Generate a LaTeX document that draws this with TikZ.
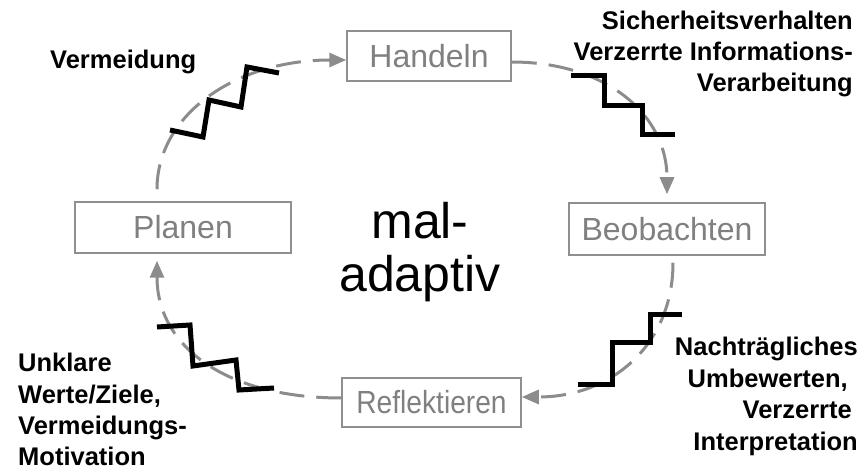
\documentclass[tikz,border=0pt]{standalone}
\usepackage{fontspec}
\setmainfont{Liberation Sans}
\usetikzlibrary{arrows.meta,calc}
\definecolor{cyc}{HTML}{8C8C8C}
\definecolor{boxline}{HTML}{8F8F8F}
\definecolor{boxtext}{HTML}{808080}
\begin{document}
\begin{tikzpicture}[x=1pt,y=-1pt,
  box/.style={draw=boxline,line width=1.5pt,fill=white,text=boxtext,
    font=\fontsize{32}{38}\selectfont,inner sep=0pt},
  cyclearrow/.style={draw=cyc,line width=3pt,dash pattern=on 25pt off 12pt,
    -{Triangle[length=17pt,width=14pt]}},
  stair/.style={draw=black,line width=5pt,miter limit=10},
  lab/.style={font=\bfseries\fontsize{25.5}{31.4}\selectfont,inner sep=0pt,text=black},
  big/.style={font=\fontsize{50}{52}\selectfont,inner sep=0pt,text=black}]
\useasboundingbox (0,0) rectangle (863,470);

% boxes
\node[box,minimum width=164pt,minimum height=50pt] (handeln) at (429,56) {Handeln};
\node[box,minimum width=196pt,minimum height=52pt] (beob) at (667,229) {Beobachten};
\node[box,minimum width=216pt,minimum height=51pt] (planen) at (183,227.5) {Planen};
\node[box,minimum width=179pt,minimum height=49pt] (refl) at (431.5,402.5) {\scalebox{0.88}[1]{Reflektieren}};

% cycle connectors
\draw[cyclearrow] ($(planen.north)+(-26,-12)$) .. controls +(0,-75) and +(-110,0) .. ($(handeln.west)+(0,4)$);
\draw[cyclearrow] ($(handeln.east)+(0,6)$) .. controls +(94,0) and +(0,-80) .. ($(beob.north)+(0,-8)$);
\draw[cyclearrow] ($(beob.south)+(6,7)$) .. controls +(0,81) and +(91,0) .. ($(refl.east)+(0,-5.5)$);
\draw[cyclearrow] ($(refl.west)+(0,-4.5)$) .. controls +(-115,0) and +(0,86) .. ($(planen.south)+(-26,7)$);

% staircases
\draw[stair] (170,130) -- (203,137) -- (209,100) -- (241,107) -- (247,67) -- (279,73);
\draw[stair] (571,76) -- (604,76) -- (604,106) -- (642,106) -- (642,135) -- (675,135);
\draw[stair] (578,385) -- (612,385) -- (612,343) -- (650,343) -- (650,315) -- (682,315);
\draw[stair] (157,327) -- (190,325) -- (193,366) -- (236,360) -- (239,390) -- (274,388);

% centre text
\node[big,anchor=base] (mal) at (420,239) {mal-};
\node[big,anchor=base] (adaptiv) at (420,292) {adaptiv};

% labels (base anchor of a multi-line node = baseline of its last line)
\node[lab,anchor=base east,align=right] (sicher) at (853,92) {Sicherheitsverhalten\\Verzerrte Informations-\\Verarbeitung};
\node[lab,anchor=base west] (verm) at (50,69) {Vermeidung};
\node[lab,anchor=base west,align=left] (unklar) at (18,466) {Unklare\\Werte/Ziele,\\Vermeidungs-\\Motivation};
\node[lab,anchor=base east,align=right] (nacht) at (858,450) {Nachträgliches\\Umbewerten,\rule{10pt}{0pt}\\Verzerrte\rule{6pt}{0pt}\\Interpretation};
\end{tikzpicture}
\end{document}
